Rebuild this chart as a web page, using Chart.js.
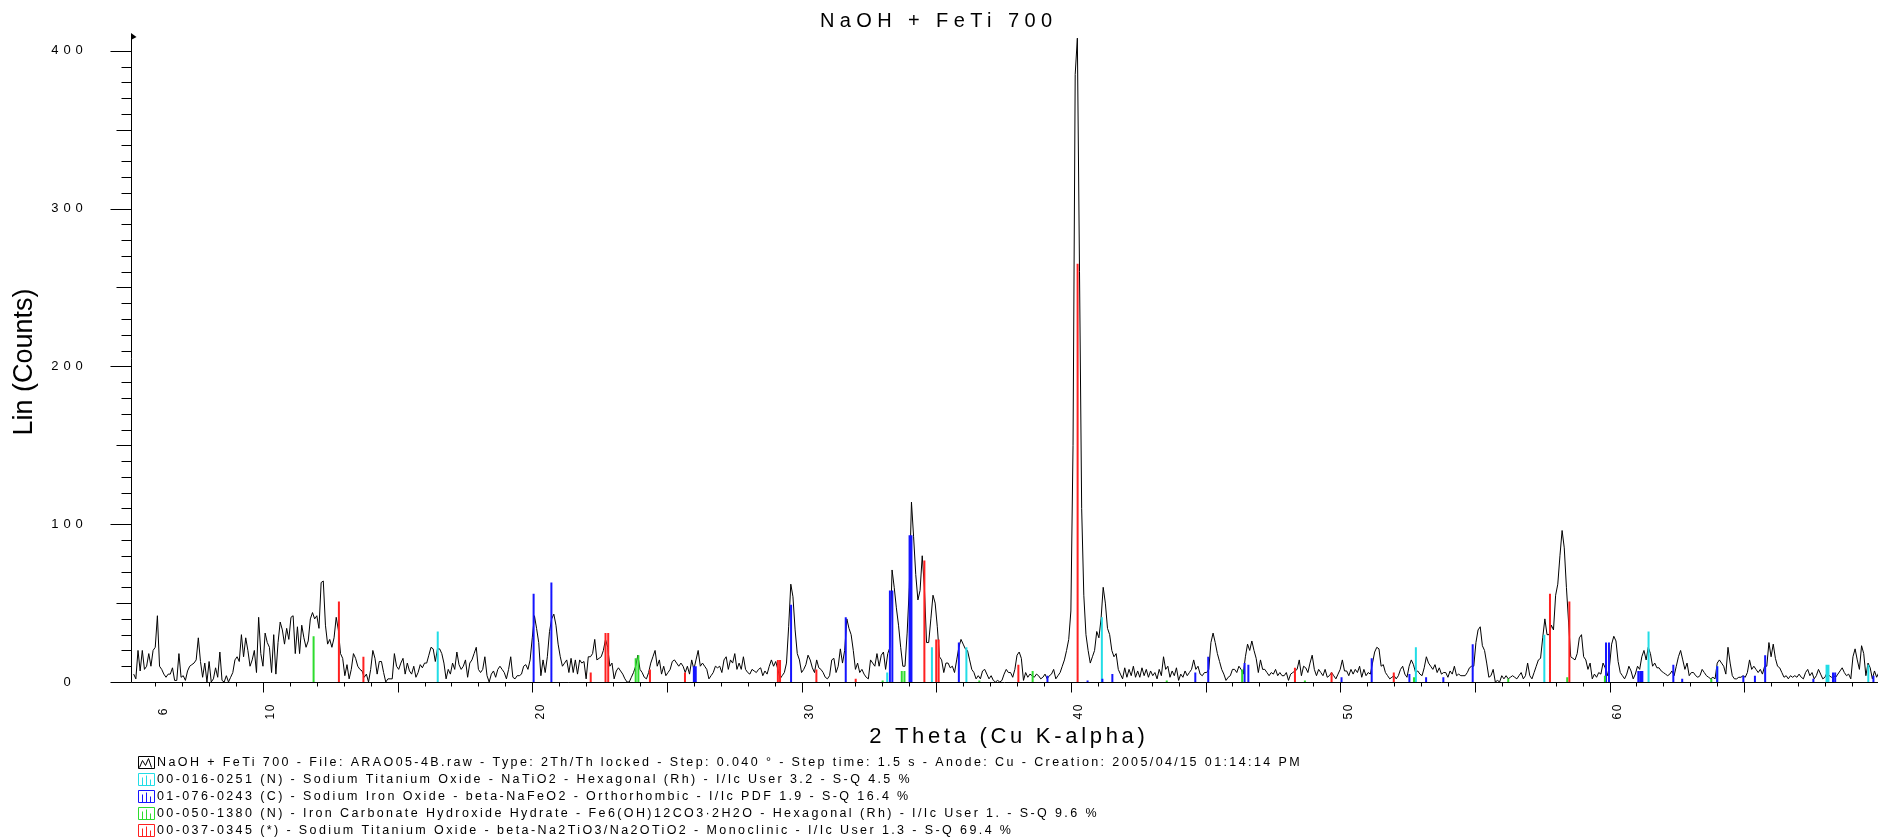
<!DOCTYPE html>
<html>
<head>
<meta charset="utf-8">
<title>NaOH + FeTi 700</title>
<script src="https://cdn.jsdelivr.net/npm/chart.js@4.4.1/dist/chart.umd.min.js"></script>
<style>
  html, body { margin: 0; padding: 0; background: #fff; }
  #wrap { width: 1878px; height: 837px; }
</style>
</head>
<body>
<div id="wrap"><canvas id="xrd" width="1878" height="837"></canvas></div>
<script>
// scan grid: 2-theta start and step (deg)
const scanStart = 5.2;
const scanStep = 0.08;

// Lin (Counts), split by 2-theta range
const counts05to13 = [5,2,20,7,20,8,10,18,10,20, 22,42,10,8,5,3,5,5,9,1, 1,18,3,4,1,7,10,11,12,14,
  28,13,3,12,0,13,0,2,9,3, 19,1,0,4,0,3,6,14,16,13, 30,16,28,20,10,14,20,6,41,18,
  10,31,25,22,6,30,5,25,38,33, 24,34,27,41,42,18,35,18,36,28, 22,26,40,44,40,42,34,63,64,36,
  24,27,22,28,41,33,18,15,4,11, 2,8,18,15,10,8];
const counts13to22 = [7,3,5,0,8,20,15,5,13,13, 6,0,2,2,2,18,10,8,12,15, 5,12,7,5,10,3,6,11,9,12,
  12,17,22,21,13,21,21,18,12,2, 8,5,12,8,19,11,8,10,14,3, 12,14,18,22,8,6,8,16,4,0,
  5,7,3,8,10,8,6,2,8,16, 3,2,4,4,5,10,11,8,14,28, 42,34,25,4,14,6,16,32,40,43,
  36,24,16,10,12,14,6,15,6,14, 5,14,12,13,2,16,16];
const counts22to30 = [18,27,14,15,16,20,27,22,10,12, 2,7,9,7,5,2,0,0,3,6, 10,17,8,6,3,2,6,12,16,20,
  10,14,5,10,4,6,8,13,14,12, 10,12,10,6,10,5,14,8,14,20, 10,12,10,8,2,4,6,10,9,10,
  6,14,16,8,14,12,18,8,12,8, 16,8,6,5,8,7,6,8,9,4, 7,5,10,14,10,13,8,2,4,6,
  12,35,62,54,33,18,14,6,8,11, 17,14,9,6,14,9,8];
const counts30to39 = [6,3,2,4,14,15,6,10,21,12, 20,40,34,30,20,8,12,6,8,5, 3,2,14,12,10,18,10,17,19,8,
  18,22,71,60,47,36,22,10,10,31, 60,114,92,68,52,58,80,60,25,25, 40,55,50,35,16,14,6,12,12,9,
  10,6,14,22,27,24,21,20,14,8, 6,2,4,2,7,8,5,2,4,1, 0,1,0,1,5,8,6,6,3,8,
  17,19,15,1,6,3,5,4,3,5, 4,2,3,5,2,4];
const counts39to47 = [5,8,2,4,6,10,14,20,27,45, 150,385,408,260,110,55,30,20,12,16, 20,32,28,40,60,50,34,30,20,16,
  18,8,5,2,9,3,8,4,10,3, 7,3,9,4,8,3,7,4,6,2, 8,4,16,8,10,3,7,4,9,1,
  5,3,7,4,6,8,14,8,10,5, 4,6,6,8,25,31,25,18,13,8, 5,1,3,4,8,8,6,10,8,5,
  16,24,20,26,20,15,6,14,8,8, 6,4,6,5,8,4,6,4];
const counts47to56 = [4,6,1,5,6,7,8,14,4,10, 9,6,12,17,8,4,8,6,4,8, 3,4,6,4,2,5,8,14,7,7,
  4,8,5,8,6,10,3,8,4,6, 5,12,19,22,21,10,11,6,4,2, 3,4,2,4,8,10,5,3,10,14,
  11,6,7,5,4,9,16,12,10,8, 11,6,9,5,6,6,3,7,5,10, 4,5,4,4,4,6,9,10,10,25,
  33,35,23,20,12,3,4,8,0,1, 0,4,2,4,2,3,4];
const counts56to65 = [3,2,4,6,2,4,12,4,2,6, 10,14,15,28,40,30,30,36,33,55, 62,80,96,85,60,38,16,15,14,18,
  28,30,16,14,8,12,2,5,3,6, 5,12,9,4,10,24,29,26,13,6, 4,2,5,10,7,2,5,10,8,16,
  20,14,22,18,10,12,9,9,7,6, 5,4,5,7,4,10,16,20,14,8, 12,4,6,6,4,3,4,8,6,4,
  3,2,3,2,12,14,12,10,5,22, 12,4,2,2,3,3,4];
const counts65to70 = [3,6,14,8,10,8,6,8,5,10, 10,25,16,24,15,10,9,6,3,4, 2,4,3,4,3,5,3,2,6,8,
  4,6,2,4,8,5,2,3,6,4, 3,4,3,5,7,9,6,4,5,2, 16,21,14,8,23,18,4,12,9,2,
  7,3,6,5];

// reference patterns: [2-theta, height in counts]
const sticksNaTiO2 = [[16.49,32],[33.18,6],[34.84,22],[36.12,22],[41.15,41],[52.81,22],[57.58,30],
  [61.45,32],[64.0,10],[68.06,11],[68.13,11],[69.61,11]];
const sticksNaFeO2 = [[20.05,56],[20.71,63],[26.0,10],[26.07,10],[29.61,49],[31.64,41],[33.28,58],[33.37,58],
  [34.01,93],[34.08,93],[35.84,25],[39.13,4],[40.62,1],[41.17,2],[41.54,5],[44.62,6],[45.10,16],[46.45,12],
  [46.59,11],[50.05,3],[51.17,15],[52.57,5],[53.19,3],[53.83,3],[54.92,24],[59.87,25],[59.98,25],[61.07,7],
  [61.15,7],[61.22,7],[62.37,11],[62.70,2],[64.0,10],[64.97,4],[65.4,4],[65.78,17],[67.57,2],[68.3,6],
  [68.38,6],[69.8,4]];
const sticksFeCarb = [[11.88,29],[23.84,15],[23.94,17],[33.01,1],[33.72,7],[33.82,7],[36.6,1],[38.58,7],
  [43.56,1],[46.36,8],[48.69,1],[52.74,3],[56.24,2],[58.43,3],[59.83,4],[63.78,2]];
const sticksNa2TiO3 = [[12.82,51],[13.73,16],[22.17,6],[22.72,31],[22.82,31],[24.37,8],[25.67,6],[29.12,14],
  [29.2,14],[30.55,8],[32.01,2],[34.56,77],[35.0,27],[35.09,27],[38.05,11],[40.25,265],[48.32,9],
  [49.68,6],[51.99,6],[57.79,56],[58.51,51]];

const xTickLabels = [6, 10, 20, 30, 40, 50, 60];
const yTickLabels = [0, 100, 200, 300, 400];

const legendRows = [
  { color: '#000000', kind: 'scan', text: 'NaOH + FeTi 700 - File: ARAO05-4B.raw - Type: 2Th/Th locked - Step: 0.040 ° - Step time: 1.5 s - Anode: Cu - Creation: 2005/04/15 01:14:14 PM' },
  { color: '#22dde6', kind: 'stick', text: '00-016-0251 (N) - Sodium Titanium Oxide - NaTiO2 - Hexagonal (Rh) - I/Ic User 3.2 - S-Q 4.5 %' },
  { color: '#1515ff', kind: 'stick', text: '01-076-0243 (C) - Sodium Iron Oxide - beta-NaFeO2 - Orthorhombic - I/Ic PDF 1.9 - S-Q 16.4 %' },
  { color: '#2edc2e', kind: 'stick', text: '00-050-1380 (N) - Iron Carbonate Hydroxide Hydrate - Fe6(OH)12CO3·2H2O - Hexagonal (Rh) - I/Ic User 1. - S-Q 9.6 %' },
  { color: '#ff2020', kind: 'stick', text: '00-037-0345 (*) - Sodium Titanium Oxide - beta-Na2TiO3/Na2OTiO2 - Monoclinic - I/Ic User 1.3 - S-Q 69.4 %' }
];

const FONT = '"Liberation Sans", Arial, Helvetica, sans-serif';

const allCounts = [].concat(counts05to13, counts13to22, counts22to30, counts30to39,
  counts39to47, counts47to56, counts56to65, counts65to70);
const scanPoints = allCounts.map((c, i) => ({ x: +(scanStart + i * scanStep).toFixed(2), y: c }));

function stickPoints(list) {
  const pts = [];
  list.forEach(([x, h]) => { pts.push({ x, y: 0 }, { x, y: h }, { x, y: null }); });
  return pts;
}

function stickSet(label, list, color) {
  return {
    label, data: stickPoints(list), borderColor: color, borderWidth: 2,
    pointRadius: 0, spanGaps: false, tension: 0, order: 0
  };
}

// text with tracking; returns drawn width
function spaced(ctx, str, x, y, font, spacing, align) {
  ctx.font = font;
  ctx.letterSpacing = spacing + 'px';
  const w = ctx.measureText(str).width - spacing;
  let x0 = x;
  if (align === 'center') x0 = x - w / 2;
  else if (align === 'right') x0 = x - w;
  ctx.textAlign = 'left';
  ctx.fillText(str, x0, y);
  ctx.letterSpacing = '0px';
  return w;
}

const xrdFrame = {
  id: 'xrdFrame',
  beforeDatasetsDraw(chart) {
    const { ctx, chartArea: a, scales: { x, y } } = chart;
    ctx.save();
    ctx.strokeStyle = '#000';
    ctx.fillStyle = '#000';
    ctx.lineWidth = 1;
    const ax = Math.round(a.left) + 0.5;
    const ay = Math.round(y.getPixelForValue(0)) + 0.5;
    ctx.beginPath();
    ctx.moveTo(ax, ay);
    ctx.lineTo(ax, a.top);
    ctx.moveTo(ax, ay);
    ctx.lineTo(a.right, ay);
    // y ticks every 10 counts
    for (let v = 0; v <= 400; v += 10) {
      const py = Math.round(y.getPixelForValue(v)) + 0.5;
      const len = v % 100 === 0 ? 21 : (v % 50 === 0 ? 15 : 10);
      ctx.moveTo(ax - len, py);
      ctx.lineTo(ax, py);
    }
    // x ticks every degree
    for (let d = Math.ceil(x.min); d <= x.max; d++) {
      const px = Math.round(x.getPixelForValue(d)) + 0.5;
      const len = d % 5 === 0 ? 10 : 4;
      ctx.moveTo(px, ay);
      ctx.lineTo(px, ay + len);
    }
    ctx.stroke();
    // arrow head on the y axis
    ctx.beginPath();
    ctx.moveTo(ax - 0.5, a.top - 2);
    ctx.lineTo(ax + 5, a.top + 2);
    ctx.lineTo(ax - 0.5, a.top + 5);
    ctx.closePath();
    ctx.fill();
    ctx.restore();
  },
  afterDraw(chart) {
    const { ctx, scales: { x, y } } = chart;
    ctx.save();
    ctx.fillStyle = '#000';
    ctx.textBaseline = 'middle';

    // y tick labels
    yTickLabels.forEach(v => spaced(ctx, String(v), 67, y.getPixelForValue(v), '13px ' + FONT, 5, 'center'));

    // x tick labels, rotated
    xTickLabels.forEach(v => {
      ctx.save();
      ctx.translate(x.getPixelForValue(v) + 8, 712);
      ctx.rotate(-Math.PI / 2);
      spaced(ctx, String(v), 0, 0, '12px ' + FONT, 1.5, 'center');
      ctx.restore();
    });

    // titles
    spaced(ctx, 'NaOH + FeTi 700', 936, 21, '20px ' + FONT, 5.4, 'center');
    spaced(ctx, '2 Theta (Cu K-alpha)', 1007, 737, '22px ' + FONT, 3.7, 'center');
    ctx.save();
    ctx.translate(25, 362);
    ctx.rotate(-Math.PI / 2);
    spaced(ctx, 'Lin (Counts)', 0, 0, '27px ' + FONT, 0, 'center');
    ctx.restore();

    // pattern legend
    legendRows.forEach((row, k) => {
      const cy = 763 + k * 17;
      const bx = 138.5, by = cy - 6.5, bw = 16, bh = 12;
      ctx.strokeStyle = row.color;
      ctx.lineWidth = 1;
      ctx.beginPath();
      ctx.rect(bx, by, bw, bh);
      if (row.kind === 'scan') {
        ctx.moveTo(bx + 1, by + bh - 1);
        ctx.lineTo(bx + 4, by + 4);
        ctx.lineTo(bx + 7, by + bh - 3);
        ctx.lineTo(bx + 10, by + 2);
        ctx.lineTo(bx + 13, by + bh - 1);
      } else {
        [[4, 8], [8, 10], [12, 6]].forEach(([dx, h]) => {
          ctx.moveTo(bx + dx, by + bh);
          ctx.lineTo(bx + dx, by + bh - h);
        });
      }
      ctx.stroke();
      ctx.fillStyle = '#000';
      spaced(ctx, row.text, 157, cy, '12.5px ' + FONT, 2.4, 'left');
    });
    ctx.restore();
  }
};

new Chart(document.getElementById('xrd'), {
  type: 'line',
  data: {
    datasets: [
      stickSet('00-037-0345', sticksNa2TiO3, legendRows[4].color),
      stickSet('00-050-1380', sticksFeCarb, legendRows[3].color),
      stickSet('01-076-0243', sticksNaFeO2, legendRows[2].color),
      stickSet('00-016-0251', sticksNaTiO2, legendRows[1].color),
      {
        label: 'NaOH + FeTi 700',
        data: scanPoints,
        borderColor: '#000',
        borderWidth: 1,
        pointRadius: 0,
        tension: 0,
        order: 1
      }
    ]
  },
  options: {
    responsive: false,
    animation: false,
    devicePixelRatio: 1,
    layout: { padding: { left: 131, right: 0, top: 35, bottom: 155 } },
    scales: {
      x: { type: 'linear', min: 5.1, max: 69.97, display: false },
      y: { type: 'linear', min: 0, max: 410, display: false }
    },
    plugins: {
      legend: { display: false },
      tooltip: { enabled: false }
    }
  },
  plugins: [xrdFrame]
});
</script>
</body>
</html>
